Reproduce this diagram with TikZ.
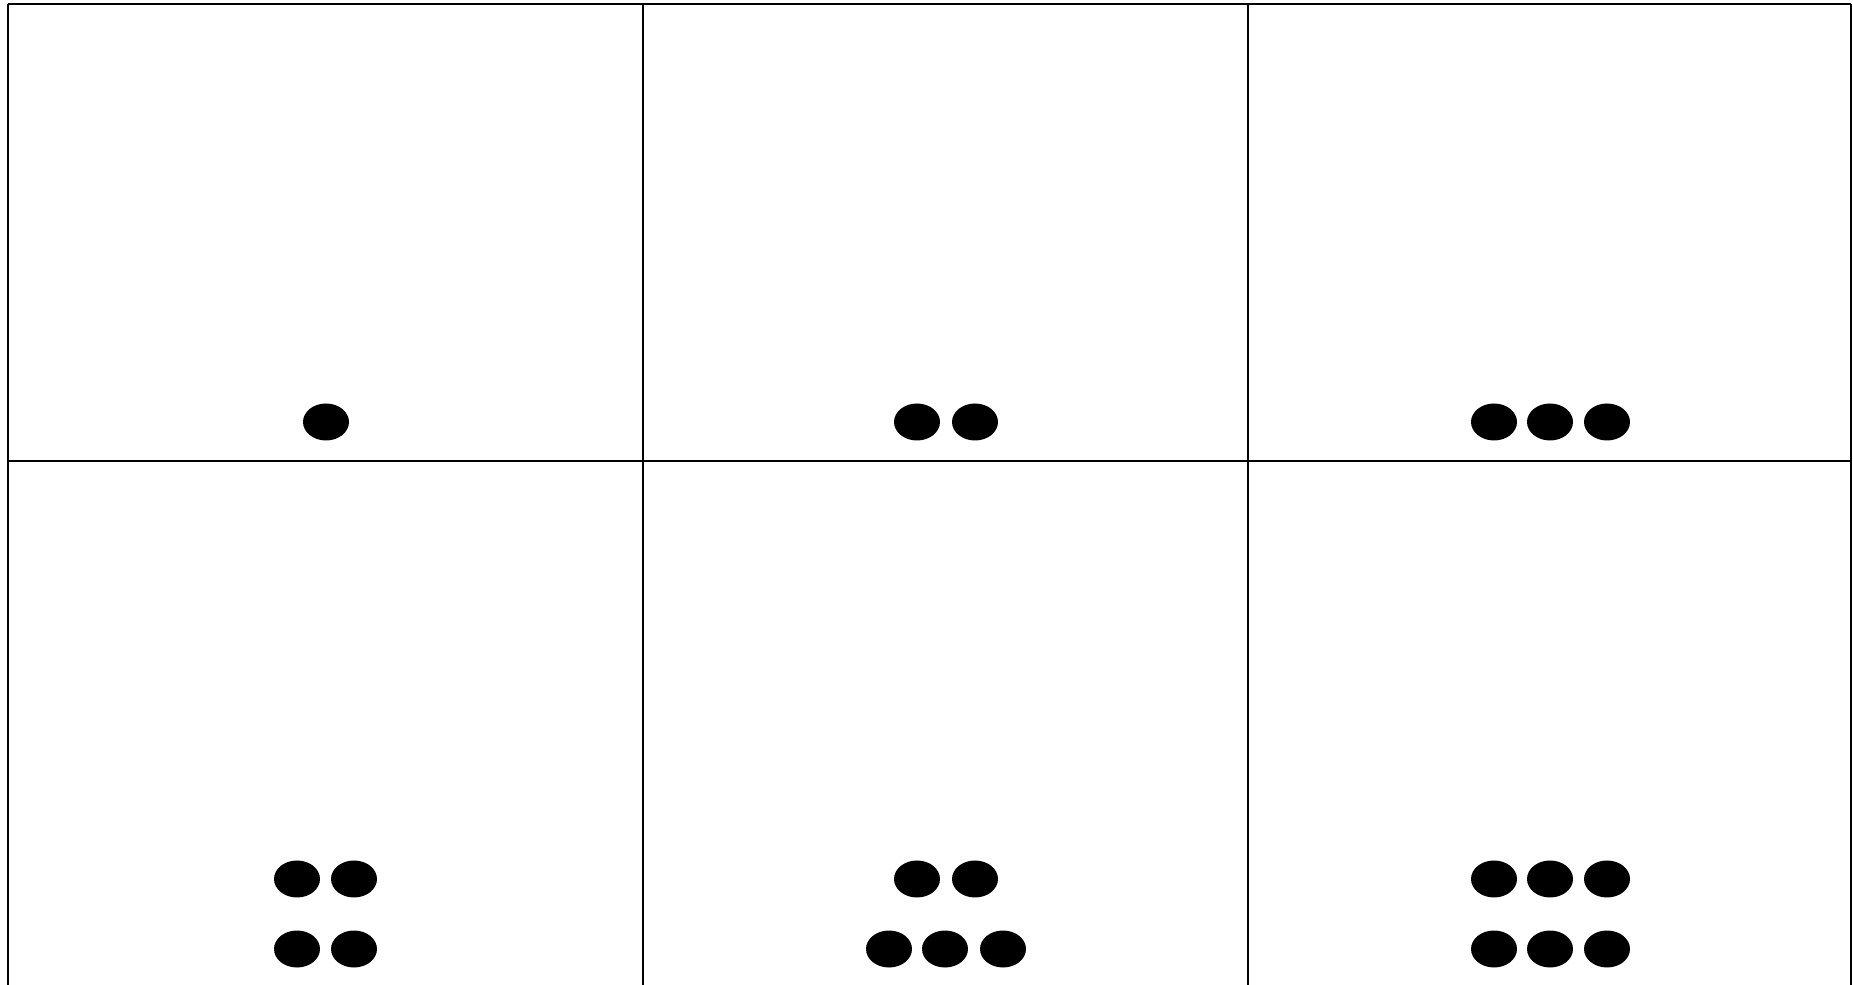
\documentclass[tikz,border=0pt]{standalone}
\usepackage{tikz}
\usetikzlibrary{positioning,shapes.geometric}

\begin{document}
\begin{tikzpicture}[line width=0.6pt,
  dot/.style={ellipse, fill=black, inner sep=0pt, minimum width=0.46cm, minimum height=0.37cm}]
\useasboundingbox (0,0) rectangle (18.53,-9.85);
\clip (0,0) rectangle (18.53,-9.85);
% grid corners
\coordinate (tl) at (0.08,-0.04);
\coordinate (tr) at (18.51,-0.04);
\coordinate (ml) at (0.08,-4.61);
\coordinate (mr) at (18.51,-4.61);
\coordinate (t1) at (6.43,-0.04);
\coordinate (t2) at (12.48,-0.04);
\coordinate (b0) at (0.08,-9.90);
\coordinate (b1) at (6.43,-9.90);
\coordinate (b2) at (12.48,-9.90);
\coordinate (b3) at (18.51,-9.90);
% grid
\draw (tl) -- (tr);
\draw (ml) -- (mr);
\draw (tl) -- (b0);
\draw (t1) -- (b1);
\draw (t2) -- (b2);
\draw (tr) -- (b3);
% top row
\node[dot] (a1) at (3.26,-4.22) {};
\node[dot] (b1a) at (9.17,-4.22) {};
\node[dot] (b1b) at (9.75,-4.22) {};
\node[dot] (c1a) at (14.94,-4.22) {};
\node[dot] (c1b) at (15.50,-4.22) {};
\node[dot] (c1c) at (16.07,-4.22) {};
% bottom row
\node[dot] (d1a) at (2.97,-8.79) {};
\node[dot] (d1b) at (3.54,-8.79) {};
\node[dot] (d2a) at (2.97,-9.49) {};
\node[dot] (d2b) at (3.54,-9.49) {};
\node[dot] (e1a) at (9.17,-8.79) {};
\node[dot] (e1b) at (9.75,-8.79) {};
\node[dot] (e2a) at (8.89,-9.49) {};
\node[dot] (e2b) at (9.45,-9.49) {};
\node[dot] (e2c) at (10.03,-9.49) {};
\node[dot] (f1a) at (14.94,-8.79) {};
\node[dot] (f1b) at (15.50,-8.79) {};
\node[dot] (f1c) at (16.07,-8.79) {};
\node[dot] (f2a) at (14.94,-9.49) {};
\node[dot] (f2b) at (15.50,-9.49) {};
\node[dot] (f2c) at (16.07,-9.49) {};
\end{tikzpicture}
\end{document}
